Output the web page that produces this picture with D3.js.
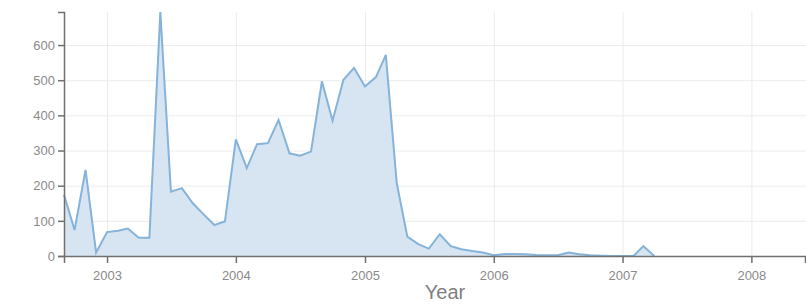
<!DOCTYPE html>
<html>
<head>
<meta charset="utf-8">
<script src="https://cdn.jsdelivr.net/npm/d3@7"></script>
<style>
body { margin: 0; background: #fff; }
.axis text { font-family: "Liberation Sans", Arial, sans-serif; font-size: 13px; fill: #8a8a8a; }
.axis path, .axis line { stroke: #707070; stroke-width: 1.5px; }
.grid line { stroke: #ececec; stroke-width: 1px; }
.grid path { display: none; }
.area { fill: #d6e5f1; stroke: none; }
.line { fill: none; stroke: #85b3d9; stroke-width: 2px; }
</style>
</head>
<body>
<script>
// monthly counts, starting Sept 2002
var months = ["2002-09","2002-10","2002-11","2002-12",
    "2003-01","2003-02","2003-03","2003-04","2003-05","2003-06","2003-07","2003-08","2003-09","2003-10","2003-11","2003-12",
    "2004-01","2004-02","2004-03","2004-04","2004-05","2004-06","2004-07","2004-08","2004-09","2004-10","2004-11","2004-12",
    "2005-01","2005-02","2005-03","2005-04","2005-05","2005-06","2005-07","2005-08","2005-09","2005-10","2005-11","2005-12",
    "2006-01","2006-02","2006-03","2006-04","2006-05","2006-06","2006-07","2006-08","2006-09","2006-10","2006-11","2006-12",
    "2007-01","2007-02","2007-03","2007-04"];
var counts = [174, 74, 245, 10,
    68, 72, 78, 52, 52, 694, 183, 193, 150, 119, 88, 98,
    332, 250, 318, 321, 387, 292, 285, 297, 497, 385, 501, 535,
    482, 509, 572, 207, 55, 34, 21, 62, 28, 19, 14, 10,
    2, 6, 6, 5, 3, 2, 2, 10, 5, 2, 1, 0,
    0, 0, 28, 0];
var yTicks = [0, 100, 200, 300, 400, 500, 600];
var xStart = "2002-09", xEnd = "2008-06";

var margin = {top: 12, right: 0, bottom: 48, left: 64},
    width = 806 - margin.left - margin.right,
    height = 304 - margin.top - margin.bottom;

var parseMonth = d3.timeParse("%Y-%m");

var data = months.map(function(m, i) {
    return {date: parseMonth(m), value: counts[i]};
});

var x = d3.scaleTime()
    .domain([parseMonth(xStart), parseMonth(xEnd)])
    .range([0, 741]);

var y = d3.scaleLinear()
    .domain([0, d3.max(counts)])
    .range([height, 0]);

var svg = d3.select("body").append("svg")
    .attr("width", 806)
    .attr("height", 304)
    .append("g")
    .attr("transform", "translate(" + margin.left + "," + margin.top + ")");

// grid
svg.append("g")
    .attr("class", "grid")
    .attr("transform", "translate(0," + height + ")")
    .call(d3.axisBottom(x).ticks(d3.timeYear.every(1)).tickSize(-height).tickFormat(""));
svg.append("g")
    .attr("class", "grid")
    .call(d3.axisLeft(y).tickValues(yTicks).tickSize(-width).tickFormat(""));

var area = d3.area()
    .x(function(d) { return x(d.date); })
    .y0(height)
    .y1(function(d) { return y(d.value); });

var line = d3.line()
    .x(function(d) { return x(d.date); })
    .y(function(d) { return y(d.value); });

svg.append("path")
    .datum(data)
    .attr("class", "area")
    .attr("d", area);

svg.append("path")
    .datum(data)
    .attr("class", "line")
    .attr("d", line);

svg.append("g")
    .attr("class", "x axis")
    .attr("transform", "translate(0," + height + ")")
    .call(d3.axisBottom(x).ticks(d3.timeYear.every(1)).tickFormat(d3.timeFormat("%Y")).tickSize(7))
    .selectAll("text")
    .attr("dy", "1.1em");

svg.append("g")
    .attr("class", "y axis")
    .call(d3.axisLeft(y).tickValues(yTicks).tickSize(6));

svg.append("text")
    .attr("x", 381)
    .attr("y", 299 - margin.top)
    .attr("text-anchor", "middle")
    .style("font-family", "Liberation Sans, Arial, sans-serif")
    .style("font-size", "20px")
    .style("fill", "#7f7f7f")
    .text("Year");
</script>
</body>
</html>
